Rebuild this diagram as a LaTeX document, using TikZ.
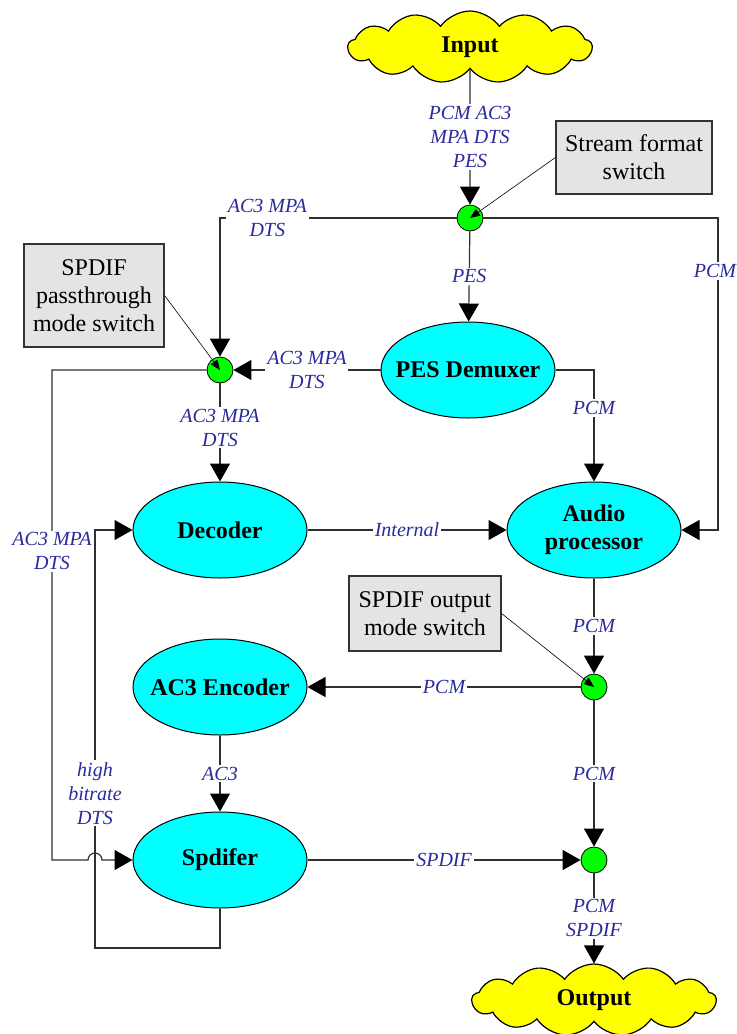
\documentclass[tikz,border=0pt]{standalone}
\usepackage{fontspec}
\setmainfont{Liberation Serif}
\usepackage{tikz}
\usetikzlibrary{arrows.meta,calc,shapes.geometric,shapes.symbols}
\definecolor{ink}{HTML}{303030}
\definecolor{flow}{HTML}{2A2A9C}
\definecolor{procfill}{HTML}{00FFFF}
\definecolor{swfill}{HTML}{00FF00}
\definecolor{cloudfill}{HTML}{FFFF00}
\definecolor{notefill}{HTML}{E4E4E4}

\begin{document}
\begin{tikzpicture}[x=0.5pt,y=-0.5pt,
  io/.style={cloud,cloud puffs=13,cloud puff arc=110,aspect=3.4,draw=black,line width=0.6pt,fill=cloudfill,font=\large\bfseries,minimum width=122pt,minimum height=36pt,inner sep=0pt},
  proc/.style={ellipse,draw=black,line width=0.5pt,fill=procfill,font=\large\bfseries,align=center,minimum width=87pt,minimum height=48pt,inner xsep=-8pt,inner ysep=0pt},
  sw/.style={circle,draw=black,line width=0.4pt,fill=swfill,minimum size=13pt,inner sep=0pt},
  note/.style={draw=black!80,line width=0.6pt,fill=notefill,font=\large,align=center,inner sep=2pt},
  lbl/.style={font=\itshape,text=flow,fill=white,inner sep=1pt,align=center},
  ar/.style={-{Triangle[length=9pt,width=10pt,color=black]},line width=0.6pt,color=ink},
  ptr/.style={-{Triangle[length=5pt,width=4pt]},line width=0.3pt,color=black}]
  \useasboundingbox (0,0) rectangle (736,1034);
  % units are pixels of the sketch: x = 0.5pt, y grows downwards
  \node[io]   (in)  at (470,47)    {Input};
  \node[sw]   (sw1) at (470,218)   {};
  \node[note,minimum width=78pt,minimum height=36.5pt] (nsf) at (634,157.5) {Stream format\\switch};
  % demuxer row
  \node[proc] (pes) at (468,370)   {PES Demuxer};
  \node[sw]   (sw2) at (220,370)   {};
  \node[note,minimum width=70pt,minimum height=51.5pt] (npt) at (94,295.5) {SPDIF\\passthrough\\mode switch};
  % decoding / processing
  \node[proc] (dec) at (220,530)   {Decoder};
  \node[proc] (ap)  at (594,530)   {Audio\\processor};
  \node[sw]   (sw3) at (594,687)   {};
  \node[note,minimum width=76pt,minimum height=37.5pt] (nout) at (425,613.5) {SPDIF output\\mode switch};
  \node[proc] (enc) at (220,687)   {AC3 Encoder};
  \node[proc] (spd) at (220,860)   {Spdifer};
  \node[sw]   (sw4) at (594,860)   {};
  \node[io]   (out) at (594,1000)  {Output};
  % routing corners
  \coordinate (rt)  at (718,218);
  \coordinate (lt)  at (52,370);
  \coordinate (lb)  at (52,860);
  \coordinate (hop) at (95,860);
  \coordinate (lp)  at (95,948);
  % stream format switch
  \draw[ar] (in) -- node[lbl] (l1) {PCM AC3\\MPA DTS\\PES} (sw1);
  \draw[ar] (sw1) -| node[lbl,pos=0.4] (l2) {AC3 MPA\\DTS} (sw2);
  \draw[ar] (sw1) -- (rt) -- node[lbl,pos=0.17,xshift=-1.5pt] (l3) {PCM} (rt |- ap) -- (ap);
  \draw[ar] (sw1) -- node[lbl] (l4) {PES} (pes);
  % demuxer outputs
  \draw[ar] (pes) -- node[lbl] (l5) {AC3 MPA\\DTS} (sw2);
  \draw[ar] (pes) -| node[lbl,pos=0.67] (l6) {PCM} (ap);
  % passthrough switch, long way round hops the loop-back line
  \draw[ar] (sw2) -- node[lbl,pos=0.45] (l7) {AC3 MPA\\DTS} (dec);
  \draw[ar] (sw2) -- (lt) -- node[lbl,pos=0.37] (l8) {AC3 MPA\\DTS} (lb)
     -- ([xshift=-3.5pt]hop) arc[start angle=180,end angle=0,radius=3.5pt] -- (spd);
  \draw[ar] (dec) -- node[lbl] (l9) {Internal} (ap);
  \draw[ar] (ap)  -- node[lbl] (l10) {PCM} (sw3);
  \draw[ar] (sw3) -- node[lbl] (l11) {PCM} (enc);
  \draw[ar] (enc) -- node[lbl] (l12) {AC3} (spd);
  \draw[ar] (sw3) -- node[lbl] (l13) {PCM} (sw4);
  \draw[ar] (spd) -- node[lbl] (l14) {SPDIF} (sw4);
  \draw[ar] (sw4) -- node[lbl] (l15) {PCM\\SPDIF} (out);
  % high bitrate DTS back to the decoder
  \draw[ar] (spd.south) |- (lp) -- node[lbl,pos=0.37] (l16) {high\\bitrate\\DTS} (lp |- dec) -- (dec);
  % switch pointers
  \draw[ptr] (nsf.west)  -- (sw1.center);
  \draw[ptr] (npt.east)  -- (sw2.center);
  \draw[ptr] (nout.east) -- (sw3.center);
\end{tikzpicture}
\end{document}
